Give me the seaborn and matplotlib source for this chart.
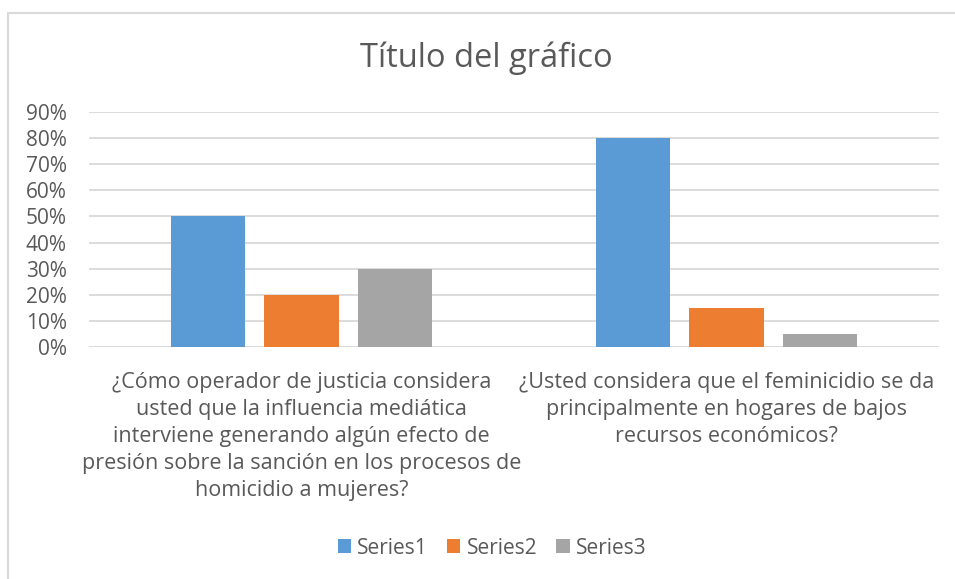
import matplotlib
matplotlib.use("Agg")
import matplotlib.pyplot as plt
import seaborn as sns
import pandas as pd
from matplotlib.ticker import PercentFormatter, MultipleLocator
from matplotlib.patches import Rectangle

categories = [
    "¿Cómo operador de justicia considera\nusted que la influencia mediática\ninterviene generando algún efecto de\npresión sobre la sanción en los procesos de\nhomicidio a mujeres?",
    "¿Usted considera que el feminicidio se da\nprincipalmente en hogares de bajos\nrecursos económicos?",
]
series_names = ["Series1", "Series2", "Series3"]
series1 = [0.50, 0.80]
series2 = [0.20, 0.15]
series3 = [0.30, 0.05]
title = "Título del gráfico"

colors = ["#5B9BD5", "#ED7D31", "#A5A5A5"]
text_color = "#595959"

rows = []
for name, vals in zip(series_names, [series1, series2, series3]):
    for c, v in zip(categories, vals):
        rows.append({"Category": c, "Series": name, "Value": v})
df = pd.DataFrame(rows)

sns.set_theme(style="white")
plt.rcParams["font.family"] = ["Open Sans", "DejaVu Sans"]

W, H = 955, 579
fig = plt.figure(figsize=(W / 100, H / 100), dpi=100)
ax = fig.add_axes([89 / W, (H - 347) / H, (939 - 89) / W, (347 - 112) / H])

sns.barplot(data=df, x="Category", y="Value", hue="Series", order=categories,
            hue_order=series_names, palette=colors, width=0.662, gap=0.21,
            saturation=1, ax=ax, legend=True, linewidth=0)

ax.set_ylim(0, 0.9)
ax.yaxis.set_major_locator(MultipleLocator(0.1))
ax.yaxis.set_major_formatter(PercentFormatter(1.0, decimals=0))
ax.grid(axis="y", color="#D9D9D9", linewidth=1.3)
ax.set_axisbelow(True)
for s in ax.spines.values():
    s.set_visible(False)
ax.set_xlabel("")
ax.set_ylabel("")
ax.tick_params(axis="y", length=0, pad=16, labelsize=15, labelcolor=text_color)
ax.tick_params(axis="x", length=0, pad=18, labelsize=15.5, labelcolor=text_color)
for lbl in ax.get_xticklabels():
    lbl.set_linespacing(1.38)
    lbl.set_horizontalalignment("center")

handles, labels = ax.get_legend_handles_labels()
ax.get_legend().remove()
fig.legend(handles, labels, loc="center", bbox_to_anchor=(492 / W, 1 - 548 / H),
           ncol=3, frameon=False, fontsize=15, labelcolor=text_color,
           handlelength=0.65, handleheight=0.65, handletextpad=0.3,
           columnspacing=0.9)

fig.text(486 / W, 1 - 58 / H, title, ha="center", va="center",
         fontsize=23.5, color=text_color)

fig.patches.append(Rectangle((8 / W, -0.1), 1.2, 1.1 - 13 / H,
                             transform=fig.transFigure, fill=False,
                             edgecolor="#D9D9D9", linewidth=1.5))

fig.savefig("out.png", dpi=100)
